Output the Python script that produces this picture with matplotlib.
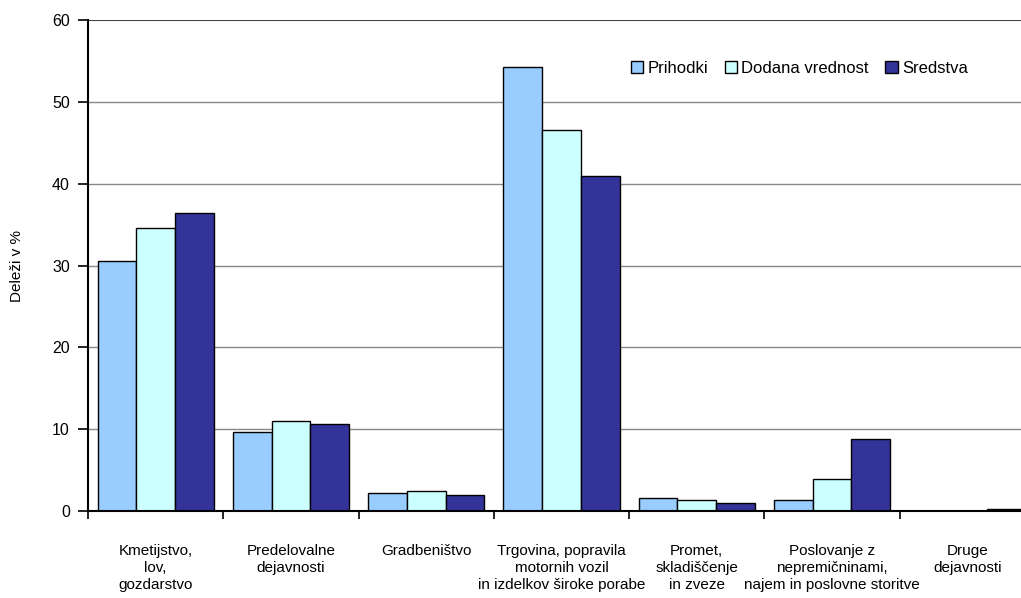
import numpy as np
import matplotlib.pyplot as plt

plt.rcParams['font.family'] = ['Liberation Sans', 'DejaVu Sans']

# podatki
kategorije = ['Kmetijstvo,\nlov,\ngozdarstvo',
              'Predelovalne\ndejavnosti',
              'Gradbeništvo',
              'Trgovina, popravila\nmotornih vozil\nin izdelkov široke porabe',
              'Promet,\nskladiščenje\nin zveze',
              'Poslovanje z\nnepremičninami,\nnajem in poslovne storitve',
              'Druge\ndejavnosti']
prihodki = [30.6, 9.7, 2.2, 54.3, 1.6, 1.4, 0.0]
dodana_vrednost = [34.6, 11.0, 2.5, 46.6, 1.4, 3.9, 0.0]
sredstva = [36.4, 10.6, 1.9, 40.9, 1.0, 8.8, 0.25]

serije = [('Prihodki', prihodki, '#99CCFF'),
          ('Dodana vrednost', dodana_vrednost, '#CCFFFF'),
          ('Sredstva', sredstva, '#333399')]

fig = plt.figure(figsize=(10.21, 5.98), dpi=100)
# os sega malo cez desni rob slike (kot v izvirniku)
ax = fig.add_axes([88/1021, 1 - 511/598, 947/1021, 491/598])

x = np.arange(len(kategorije)) + 0.5
w = 0.286
for k, (ime, vr, barva) in enumerate(serije):
    ax.bar(x + (k - 1) * w, vr, width=w, color=barva, edgecolor='black',
           linewidth=1.0, label=ime, zorder=3)

ax.set_xlim(0, len(kategorije))
ax.set_ylim(0, 60)
ax.set_yticks(np.arange(0, 61, 10))
for yv in range(10, 60, 10):
    ax.axhline(yv, color='#888888', linewidth=1.0, zorder=1)
ax.axhline(60, color='#444444', linewidth=1.5, zorder=1)

ax.spines['top'].set_visible(False)
ax.spines['right'].set_visible(False)
ax.spines['left'].set_linewidth(1.5)
ax.spines['bottom'].set_linewidth(1.5)
ax.spines['bottom'].set_zorder(4)

ax.set_xticks(np.arange(len(kategorije) + 1))
ax.set_xticklabels([])
ax.set_xticks(x, minor=True)
ax.set_xticklabels(kategorije, minor=True, fontsize=11, linespacing=1.25)
ax.tick_params(axis='x', which='major', length=6, width=1.2, direction='out')
ax.tick_params(axis='x', which='minor', length=0, pad=24)
ax.tick_params(axis='y', length=7, width=1.2, labelsize=11.5, pad=6)

ax.set_ylabel('Deleži v %', fontsize=11, labelpad=20)

ax.legend(loc='upper left', bbox_to_anchor=(0.566, 0.93), ncol=3, frameon=False,
          fontsize=12, handlelength=0.75, handleheight=0.75,
          handletextpad=0.25, columnspacing=1.0, borderaxespad=0)

fig.savefig('out.png', dpi=100)
